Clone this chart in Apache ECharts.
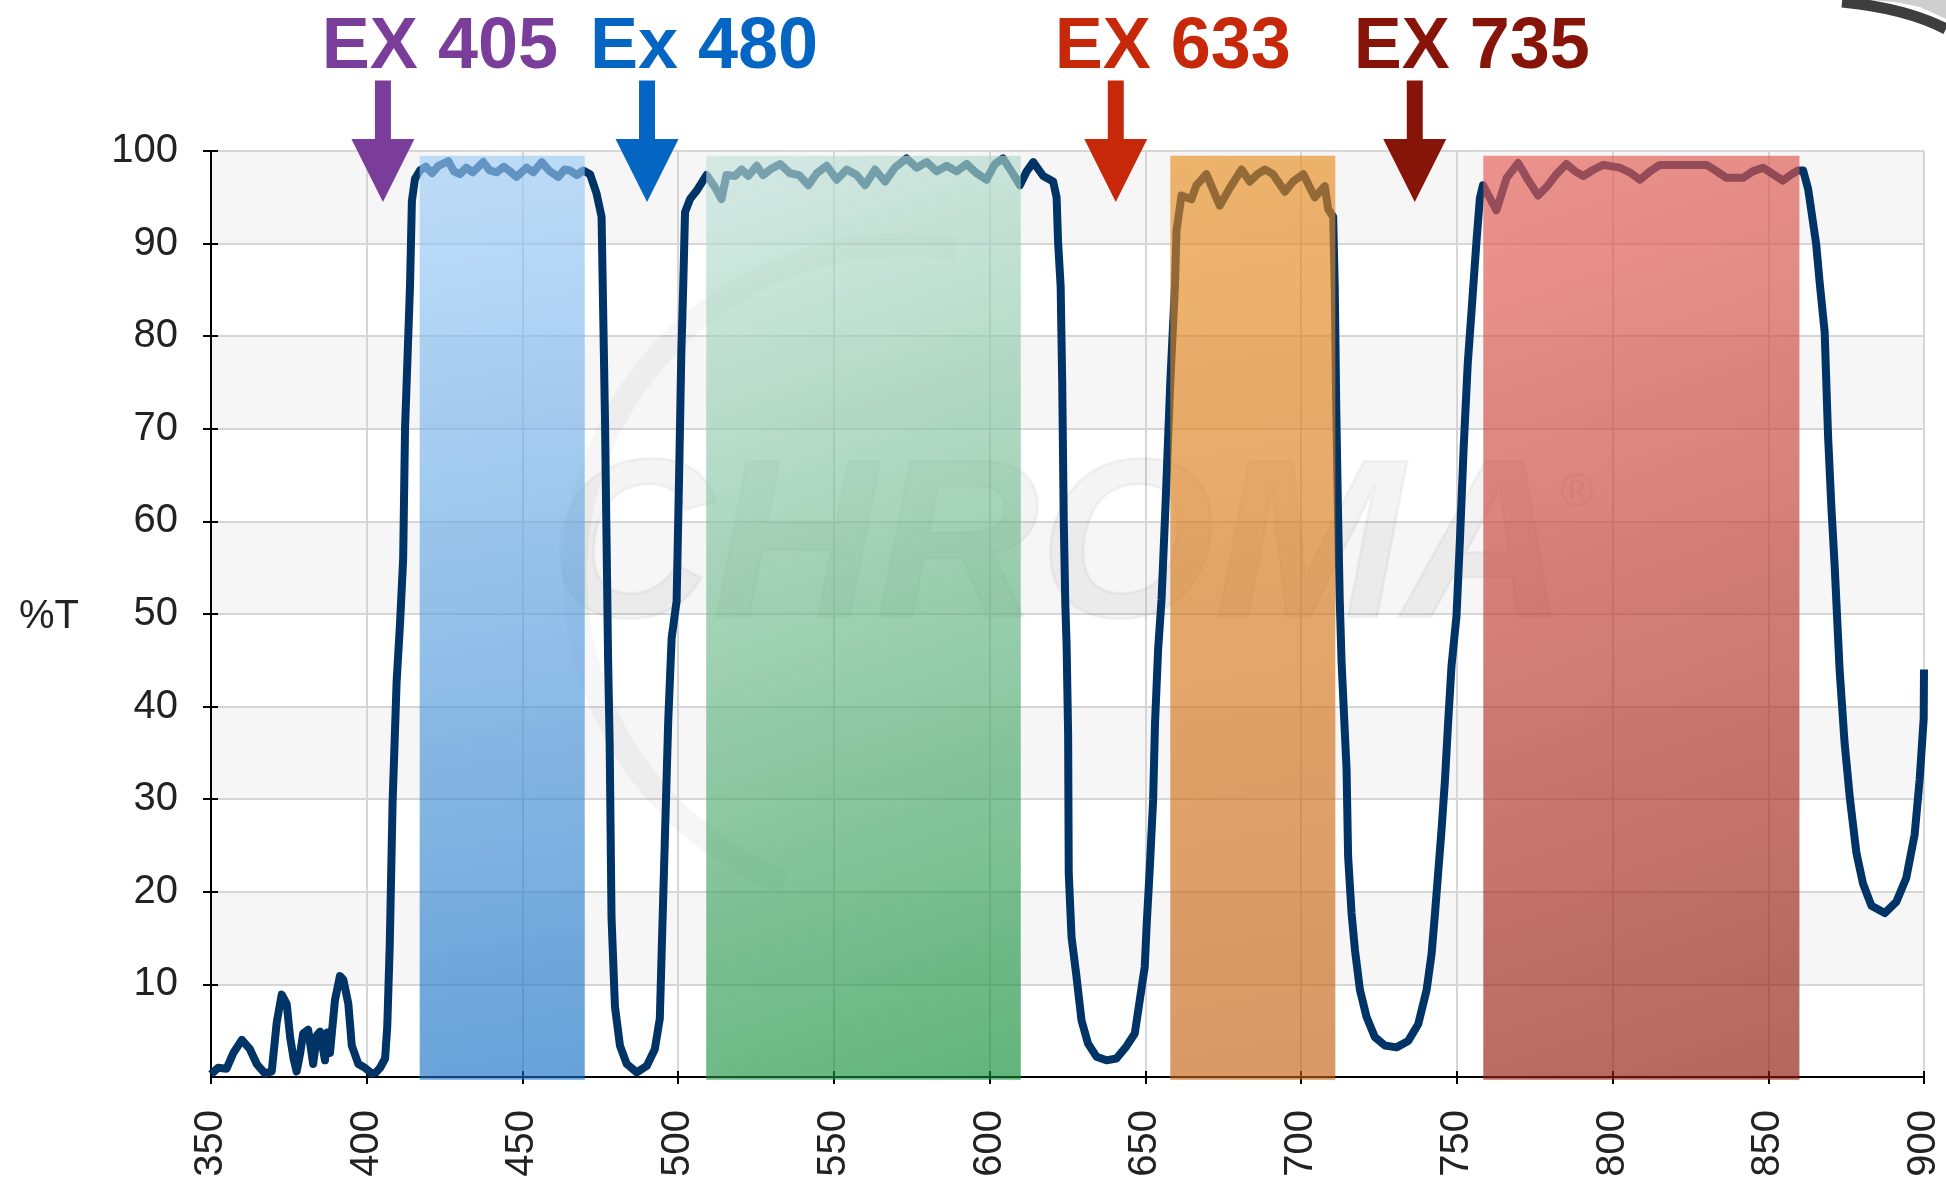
<!DOCTYPE html>
<html>
<head>
<meta charset="utf-8">
<title>Filter transmission</title>
<script src="https://cdn.jsdelivr.net/npm/echarts@6/dist/echarts.min.js"></script>
<style>
  html, body { margin: 0; padding: 0; background: #ffffff; }
  #chart { width: 1946px; height: 1187px; }
</style>
</head>
<body>
<div id="chart"></div>
<script>
// Wavelength (nm) and % transmission of the quad-band filter
const wavelengths = [
  350, 352.3, 355, 357.2, 359.9, 362.5, 364.7, 367.3, 369.5, 371.1,
  372.7, 374.3, 375.4, 376.5, 377.5, 378.6, 379.6, 381.2, 382.8, 384,
  385, 386.6, 387.4, 388.2, 389.8, 391.4, 392.5, 394.1, 395.2, 397.3,
  399.4, 401.6, 403, 404.3, 405.9, 406.6, 407.4, 408.3, 409.6, 410.7,
  411.7, 412.3, 413.9, 414.5, 415.5, 417.1, 419, 421, 423, 426.2,
  428, 429.9, 432, 434, 437.4, 439.5, 441.7, 444, 446, 448.1,
  451.3, 453.5, 456.2, 458.5, 461.5, 463.5, 465.2, 467.5, 469.5, 471.7,
  473.8, 475.4, 475.9, 476.5, 477, 477.5, 478, 478.6, 479.7, 481.3,
  483.5, 486.7, 489.9, 492.5, 494.1, 494.7, 495.7, 496.8, 497.9, 499.5,
  500.3, 501, 501.6, 502.2, 503.8, 505.9, 509.1, 511.8, 513.9, 515.5,
  518.2, 520.4, 522.5, 525.2, 527.3, 529.5, 532.7, 535.9, 538.8, 541.8,
  544.5, 547.7, 550.9, 554.1, 557.3, 560, 563.2, 566.4, 569.6, 573.3,
  576.6, 579.8, 583, 586.2, 589.4, 592.6, 595.8, 599, 601.7, 604.3,
  607, 609.7, 611.9, 614, 617.2, 620.4, 621.5, 622, 622.8, 623.3,
  623.8, 624.3, 624.7, 625.2, 625.4, 626.3, 627.9, 629.5, 631.6, 634.3,
  637.5, 640.7, 643.9, 646.6, 648.2, 649.8, 650.4, 651.4, 652.5, 653.1,
  654.1, 655.2, 656.5, 658, 659.5, 660, 661.6, 664.8, 666.4, 669.6,
  673.9, 677.1, 680.9, 683.5, 686, 688.4, 691, 694.8, 697.4, 700.7,
  704.4, 707.6, 708.7, 710.3, 710.8, 711.3, 711.8, 712.4, 713, 714.6,
  715.1, 716.2, 717.3, 718.9, 721, 723.7, 726.9, 730.6, 734.4, 737.6,
  740.3, 741.9, 743, 744, 745.1, 746.2, 747.2, 748.3, 749.9, 751,
  752.2, 753.5, 755, 756.3, 757.4, 758.4, 760.5, 762.7, 764.5, 766,
  769.7, 773, 776.1, 779, 782, 785.2, 788, 790.6, 794, 797,
  802.3, 805.5, 808.8, 812, 815.2, 820, 825, 830.2, 833.5, 836.6,
  841.9, 845, 848.3, 851.5, 854.7, 857.5, 859.6, 861.2, 862.8, 863.8,
  865.4, 866.5, 868.1, 869.2, 870.3, 871.3, 872.9, 874.5, 876.2, 878.3,
  880.4, 883.1, 887.4, 891.1, 894.3, 897, 898.6, 899.9, 900
];
const transmission = [
  0.3, 1.0, 0.9, 2.6, 4.0, 3.0, 1.4, 0.4, 0.6, 5.9,
  8.9, 7.9, 4.3, 2.0, 0.6, 2.5, 4.7, 5.1, 1.4, 4.5,
  4.9, 1.8, 4.8, 2.6, 8.3, 10.9, 10.5, 7.9, 3.4, 1.4,
  1.0, 0.4, 0.5, 1.0, 2.0, 5.5, 14.4, 29.6, 42.7, 49,
  56, 70, 85.5, 94.6, 97.0, 97.9, 98.3, 97.6, 98.4, 98.9,
  97.8, 97.5, 98.2, 97.7, 98.8, 97.9, 97.7, 98.3, 97.8, 97.2,
  98.2, 97.7, 98.8, 97.9, 97.2, 98.0, 97.9, 97.4, 97.9, 97.5,
  95.4, 92.9, 83, 71, 58, 45, 36, 17.2, 7.6, 3.4,
  1.4, 0.5, 1.2, 3.0, 6.3, 13.5, 25.4, 38.4, 47.4, 51.4,
  65, 78, 85.2, 93.4, 94.8, 95.7, 97.4, 96.1, 94.8, 97.4,
  97.3, 98.0, 97.3, 98.4, 97.4, 98.0, 98.6, 97.6, 97.4, 96.3,
  97.6, 98.4, 96.9, 98.0, 97.4, 96.3, 98.0, 96.7, 98.2, 99.2,
  98.2, 98.8, 97.8, 98.4, 97.8, 98.6, 97.6, 96.9, 98.6, 99.2,
  97.8, 96.3, 97.8, 98.8, 97.3, 96.7, 95.0, 90, 85.4, 75,
  60, 51, 46.8, 37.1, 22, 15.1, 10.8, 6.1, 3.6, 2.2,
  1.8, 2.0, 3.3, 4.7, 8.3, 11.9, 16.3, 22.4, 30, 38.2,
  46.2, 51.6, 62, 75, 85.4, 91.4, 95.2, 94.8, 96.3, 97.5,
  94.1, 96, 98, 96.7, 97.5, 98, 97.5, 95.6, 96.7, 97.5,
  95, 96.2, 93.7, 92.9, 85.4, 72, 62, 51.6, 44.8, 33.2,
  23.8, 17.7, 13.7, 9.4, 6.5, 4.3, 3.4, 3.2, 3.9, 5.7,
  9.4, 13.3, 17.7, 22, 26.7, 32.1, 38.2, 44.4, 49.8, 58,
  68, 77, 84, 90.2, 94.9, 96.3, 95.0, 93.6, 95.5, 97.1,
  98.7, 96.8, 95.2, 96.2, 97.5, 98.6, 97.8, 97.3, 98.0, 98.5,
  98.2, 97.7, 96.9, 97.8, 98.5, 98.5, 98.5, 98.5, 97.8, 97.1,
  97.1, 97.8, 98.2, 97.5, 96.8, 97.5, 97.9, 97.9, 95.9, 93.6,
  89.9, 85.8, 80.5, 69.2, 61.3, 55.3, 44, 36.1, 30.1, 24.2,
  20.9, 18.5, 17.7, 18.9, 21.5, 26.2, 32.1, 38.7, 44
];

// Emission pass bands (nm)
const bandStart = [417, 509, 658, 758.5];
const bandEnd   = [470, 610, 711, 860];

// Excitation laser lines (nm) and their captions
const excitationLines  = [405.2, 490, 640.5, 736.5];
const excitationLabels = ['EX 405', 'Ex 480', 'EX 633', 'EX 735'];

// Axis ticks
const xMin = 350, xMax = 900, xStep = 50;
const yMin = 0, yMax = 100, yStep = 10;

// ---- styling ----
const lineColor = '#003366';
const bandGradients = [
  ['rgba(158,205,248,0.64)', 'rgba(17,109,195,0.64)'],
  ['rgba(195,226,220,0.64)', 'rgba(9,137,48,0.64)'],
  ['rgba(232,140,29,0.64)',  'rgba(194,94,17,0.64)'],
  ['rgba(232,94,86,0.66)',   'rgba(140,25,9,0.66)']
];
const arrowColors = ['#7b3d9a', '#0565c3', '#c8280a', '#871409'];
const tickFont = { fontFamily: '"Liberation Sans", Arial, sans-serif', fontSize: 40, color: '#222222' };

const chart = echarts.init(document.getElementById('chart'), null, { renderer: 'canvas' });

const curve = wavelengths.map((w, i) => [w, transmission[i]]);
const bandData = bandStart.map((s, i) => [s, bandEnd[i], i]);
const arrowData = excitationLines.map((w, i) => [w, i]);

const axisLineStyle = { color: '#000000', width: 2 };

const option = {
  animation: false,
  backgroundColor: '#ffffff',
  grid: { left: 211, right: 22, top: 151, bottom: 110, containLabel: false },
  xAxis: [
    {
      type: 'value', min: xMin, max: xMax, interval: xStep,
      axisLine: { show: true, onZero: false, lineStyle: axisLineStyle },
      axisTick: { show: true, length: 7, lineStyle: axisLineStyle },
      axisLabel: Object.assign({ rotate: 90, margin: 33 }, tickFont),
      splitLine: { show: true, lineStyle: { color: '#d6d6d6', width: 2 } }
    },
    {
      type: 'value', min: xMin, max: xMax, interval: xStep, position: 'bottom', offset: 0,
      axisLine: { show: false },
      axisTick: { show: true, inside: true, length: 6, lineStyle: axisLineStyle },
      axisLabel: { show: false },
      splitLine: { show: false }
    }
  ],
  yAxis: [
    {
      type: 'value', min: yMin, max: yMax, interval: yStep,
      axisLine: { show: true, onZero: false, lineStyle: axisLineStyle },
      axisTick: { show: true, length: 8, lineStyle: axisLineStyle },
      axisLabel: Object.assign({ margin: 33, showMinLabel: false,
        formatter: v => (v === 0 ? '' : String(v)) }, tickFont),
      splitLine: { show: true, lineStyle: { color: '#d6d6d6', width: 2 } },
      splitArea: { show: true, areaStyle: { color: ['#ffffff', '#f6f6f6'] } }
    },
    {
      type: 'value', min: yMin, max: yMax, interval: yStep, position: 'left', offset: 0,
      axisLine: { show: false },
      axisTick: { show: true, inside: true, length: 7, lineStyle: axisLineStyle },
      axisLabel: { show: false },
      splitLine: { show: false }
    }
  ],
  graphic: [
    // faint CHROMA watermark behind the plot
    {
      type: 'arc', z: 1, silent: true,
      shape: { cx: 905, cy: 575, r: 330, startAngle: Math.PI * 0.62, endAngle: Math.PI * 1.55 },
      style: { stroke: 'rgba(0,0,0,0.035)', lineWidth: 24, fill: null }
    },
    {
      type: 'text', z: 1, silent: true, left: 548, top: 440,
      style: {
        text: 'CHROMA',
        font: 'italic bold 226px "Liberation Sans", Arial, sans-serif',
        fill: 'rgba(0,0,0,0.045)', stroke: 'rgba(0,0,0,0.04)', lineWidth: 3
      }
    },
    {
      type: 'text', z: 1, silent: true, left: 1560, top: 470,
      style: { text: '\u00AE', font: '46px "Liberation Sans", Arial, sans-serif', fill: 'rgba(0,0,0,0.07)' }
    },
    // y axis title
    {
      type: 'text', left: 19, top: 597,
      style: { text: '%T', font: '40px "Liberation Sans", Arial, sans-serif', fill: '#222222' }
    },
    // dark curl in the top right corner
    {
      type: 'polygon', silent: true, z: 10,
      shape: { points: [[1868, 0], [1895, 2], [1920, 7], [1946, 19], [1946, 0]] },
      style: { fill: '#cfcfcf' }
    },
    {
      type: 'bezierCurve', silent: true, z: 10,
      shape: { x1: 1842, y1: 2, cpx1: 1905, cpy1: 8, x2: 1946, y2: 29 },
      style: { stroke: '#3e3e3e', lineWidth: 11, fill: null }
    }
  ],
  series: [
    {
      name: 'Transmission',
      type: 'line',
      data: curve,
      z: 3,
      clip: false,
      showSymbol: false,
      symbol: 'none',
      smooth: false,
      lineStyle: { color: lineColor, width: 8, join: 'round' }
    },
    {
      name: 'Emission bands',
      type: 'custom',
      z: 5,
      clip: false,
      data: bandData,
      encode: { x: [0, 1] },
      renderItem: function (params, api) {
        const i = api.value(2);
        const p0 = api.coord([api.value(0), 99.5]);
        const p1 = api.coord([api.value(1), -0.3]);
        const g = bandGradients[i];
        return {
          type: 'rect',
          shape: { x: p0[0], y: p0[1], width: p1[0] - p0[0], height: p1[1] - p0[1] },
          style: {
            fill: new echarts.graphic.LinearGradient(0, 0, 1, 1, [
              { offset: 0, color: g[0] },
              { offset: 1, color: g[1] }
            ])
          }
        };
      }
    },
    {
      name: 'Excitation',
      type: 'custom',
      z: 6,
      clip: false,
      data: arrowData,
      encode: { x: 0 },
      renderItem: function (params, api) {
        const i = api.value(1);
        const tip = api.coord([api.value(0), 94.5]);
        const tail = api.coord([api.value(0), 107.6]);
        const x = tip[0], ty = tip[1], sy = tail[1];
        const headH = 63, headW = 31.5, shaftW = 8;
        const color = arrowColors[i];
        return {
          type: 'group',
          children: [
            {
              type: 'polygon',
              shape: { points: [
                [x - shaftW, sy], [x + shaftW, sy], [x + shaftW, ty - headH],
                [x + headW, ty - headH], [x, ty], [x - headW, ty - headH],
                [x - shaftW, ty - headH]
              ] },
              style: { fill: color }
            },
            {
              type: 'text',
              x: x + 57,
              y: sy - 32,
              style: {
                text: excitationLabels[i],
                font: 'bold 72px "Liberation Sans", Arial, sans-serif',
                fill: color,
                align: 'center',
                verticalAlign: 'middle'
              }
            }
          ]
        };
      }
    }
  ]
};

chart.setOption(option);
</script>
</body>
</html>
